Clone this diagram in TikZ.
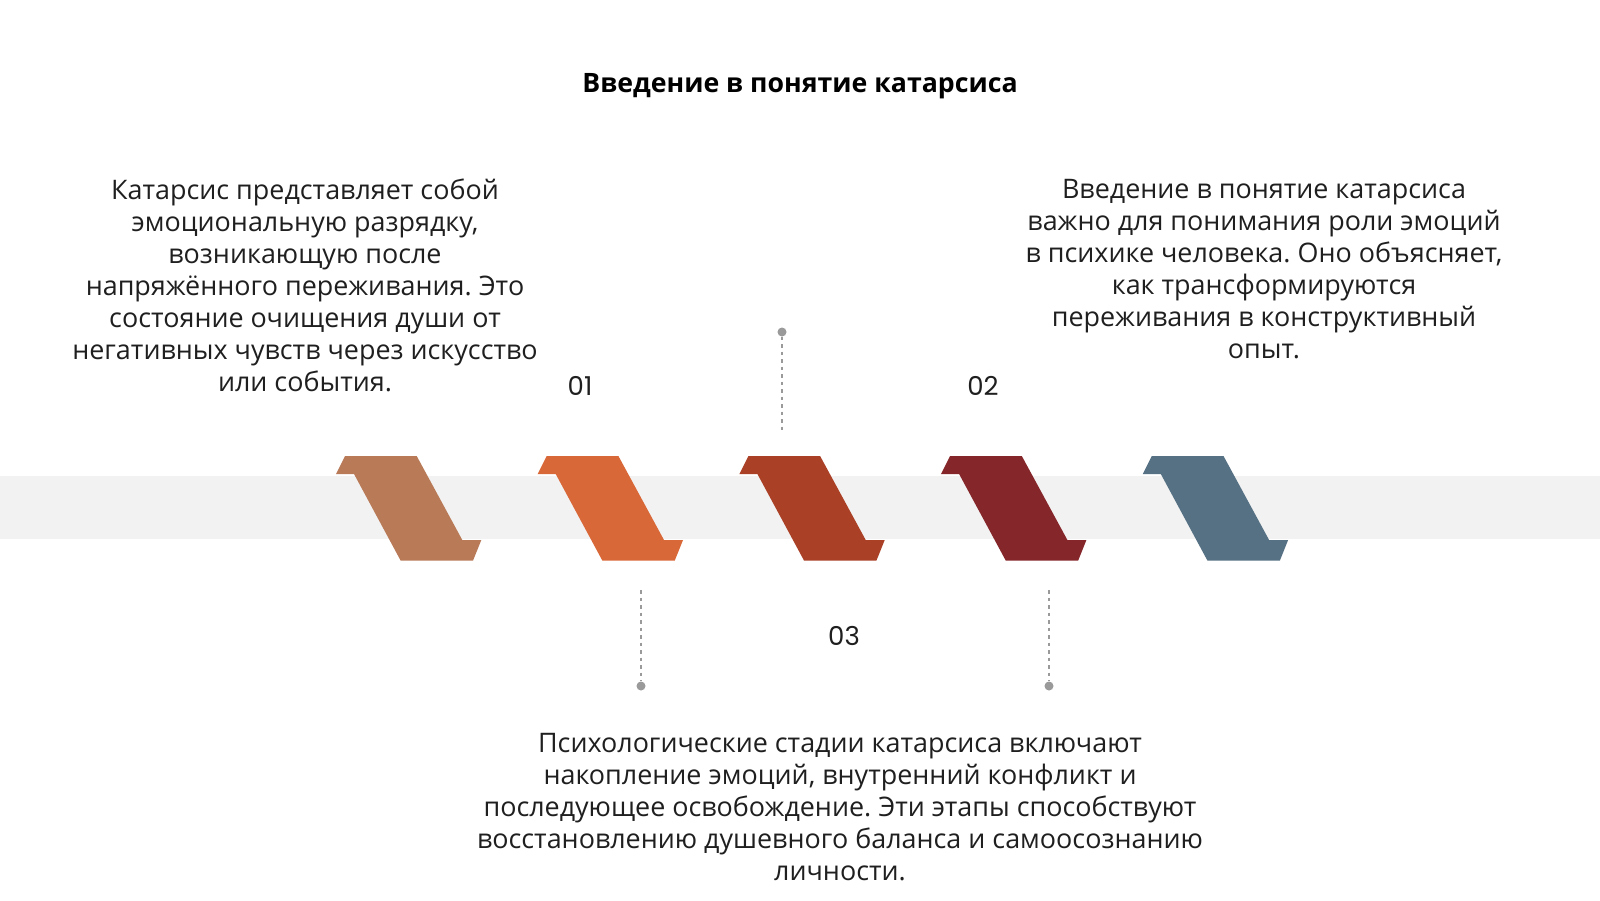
\documentclass[tikz,border=0pt]{standalone}
\usepackage{fontspec}
\setmainfont{Open Sans}
\newfontfamily\numfont{Poppins}
\frenchspacing
\definecolor{bandgray}{HTML}{F2F2F2}
\definecolor{cA}{HTML}{B97A58}
\definecolor{cB}{HTML}{D96838}
\definecolor{cC}{HTML}{AA4026}
\definecolor{cD}{HTML}{85262A}
\definecolor{cE}{HTML}{567184}
\definecolor{txt}{HTML}{1F1F1F}
\definecolor{dashgray}{HTML}{9A9A9A}
\tikzset{
  bodytext/.style={font=\frenchspacing\fontsize{26.9}{32}\selectfont, align=center, text=txt, inner sep=0pt},
  numtext/.style={font=\numfont\fontsize{26}{30}\selectfont, text=txt, inner sep=0pt},
  titletext/.style={font=\bfseries\fontsize{26.7}{30}\selectfont, text=black, inner sep=0pt},
  guide/.style={draw=dashgray, line width=1.4pt, dash pattern=on 3.5pt off 4pt},
  dotend/.style={circle, fill=dashgray, minimum size=9pt, inner sep=0pt},
}
\newcommand{\chevshape}[2]{%
  \fill[#2] (#1,474) -- ++(9,-18) -- ++(71.7,0) -- ++(45.6,84) -- ++(19,0)
    -- ++(-8.3,20.7) -- ++(-72.3,0) -- ++(-46.7,-86.7) -- cycle;}
\begin{document}
\begin{tikzpicture}[x=1pt,y=-1pt]
\useasboundingbox (0,0) rectangle (1600,900);
\fill[white] (0,0) rectangle (1600,900);
% band
\fill[bandgray] (0,476) rectangle (1600,539);
% shapes
\chevshape{336}{cA}
\chevshape{537.7}{cB}
\chevshape{739.4}{cC}
\chevshape{941.1}{cD}
\chevshape{1142.8}{cE}
% title
\node[titletext] (title) at (800,86) {Введение в понятие катарсиса};
% numbers
\node[numtext] (n1) at (580,386) {01};
\node[numtext] (n2) at (983,386) {02};
\node[numtext] (n3) at (844,636) {03};
% guides
\node[dotend] (d2) at (782,332) {};
\coordinate (e2) at (782,430);
\draw[guide] (d2) -- (e2);
\node[dotend] (d1) at (641,686) {};
\coordinate (e1) at (641,590);
\draw[guide] (e1) -- (d1);
\node[dotend] (d3) at (1049,686) {};
\coordinate (e3) at (1049,590);
\draw[guide] (e3) -- (d3);
% texts
\node[bodytext] (t1) at (305,285.5) {Катарсис представляет собой\\эмоциональную разрядку,\\возникающую после\\напряжённого переживания. Это\\состояние очищения души от\\негативных чувств через искусство\\или события.};
\node[bodytext] (t2) at (1264,269.5) {Введение в понятие катарсиса\\важно для понимания роли эмоций\\в психике человека. Оно объясняет,\\как трансформируются\\переживания в конструктивный\\опыт.};
\node[bodytext] (t3) at (840,807.5) {Психологические стадии катарсиса включают\\накопление эмоций, внутренний конфликт и\\последующее освобождение. Эти этапы способствуют\\восстановлению душевного баланса и самоосознанию\\личности.};
\end{tikzpicture}
\end{document}
